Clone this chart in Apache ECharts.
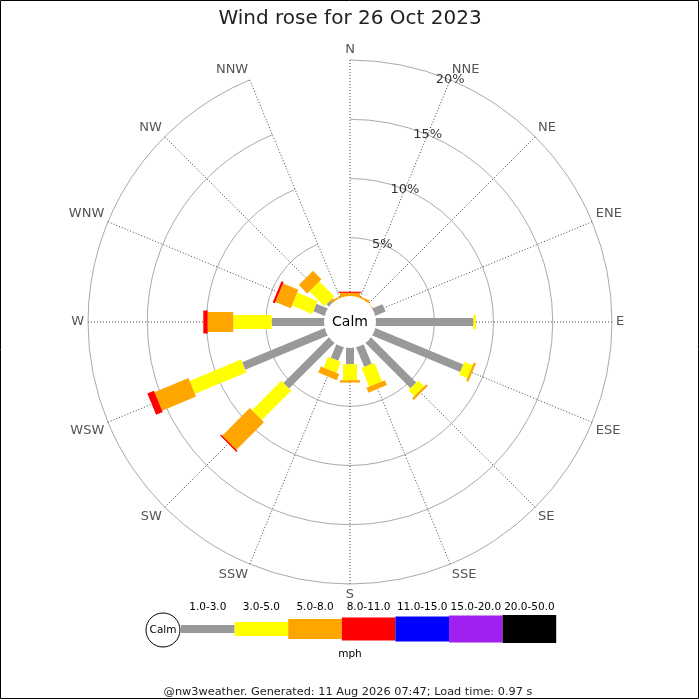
<!DOCTYPE html>
<html>
<head>
<meta charset="utf-8">
<script src="https://cdn.jsdelivr.net/npm/echarts@6/dist/echarts.min.js"></script>
<style>
  html, body { margin: 0; padding: 0; background: #fff; }
  #main { width: 700px; height: 700px; }
</style>
</head>
<body>
<div id="main"></div>
<script>
var dirs = ['N', 'NNE', 'NE', 'ENE', 'E', 'ESE', 'SE', 'SSE', 'S', 'SSW', 'SW', 'WSW', 'W', 'WNW', 'NW', 'NNW'];
var speedClasses = ['1.0-3.0', '3.0-5.0', '5.0-8.0', '8.0-11.0', '11.0-15.0', '15.0-20.0', '20.0-50.0'];
// % of the day per direction, one array per speed class (mph)
var spd1to3   = [0, 0, 0, 1.0, 8.3, 8.1, 5.45, 1.85, 1.45, 1.3, 5.5, 7.6, 4.5, 1.1, 0.35, 0];
var spd3to5   = [0, 0, 0, 0, 0.22, 0.75, 0.7, 1.7, 1.35, 1.0, 3.5, 4.7, 3.24, 1.85, 1.8, 0];
var spd5to8   = [0.35, 0.2, 0.1, 0, 0, 0.2, 0.2, 0.45, 0.2, 0.55, 3.3, 3.1, 2.16, 1.4, 1.0, 0.2];
var spd8to11  = [0.1, 0, 0, 0, 0, 0, 0, 0, 0, 0, 0.12, 0.6, 0.37, 0.2, 0, 0];
var spd11to15 = [0, 0, 0, 0, 0, 0, 0, 0, 0, 0, 0, 0, 0, 0, 0, 0];
var spd15to20 = [0, 0, 0, 0, 0, 0, 0, 0, 0, 0, 0, 0, 0, 0, 0, 0];
var spd20to50 = [0, 0, 0, 0, 0, 0, 0, 0, 0, 0, 0, 0, 0, 0, 0, 0];
var ringTicks = [5, 10, 15, 20];

var classColors = ['#999999', '#ffff00', '#ffa500', '#ff0000', '#0000ff', '#a020f0', '#000000'];
var classWidths = [8, 14, 20, 23, 25, 27, 28];
var FONT = 'DejaVu Sans';

var allClasses = [spd1to3, spd3to5, spd5to8, spd8to11, spd11to15, spd15to20, spd20to50];

// stack the classes outward along each spoke: [start, dir, end, class]
var segs = [];
for (var d = 0; d < dirs.length; d++) {
  var acc = 0;
  for (var k = 0; k < allClasses.length; k++) {
    var v = allClasses[k][d];
    if (v > 0) {
      segs.push([acc, dirs[d], acc + v, k]);
      acc += v;
    }
  }
}

function renderSeg(params, api) {
  var cs = params.coordSys;
  var a = api.coord([api.value(0), api.value(1)]);
  var b = api.coord([api.value(2), api.value(1)]);
  var dx = b[0] - cs.cx, dy = b[1] - cs.cy;
  var len = Math.sqrt(dx * dx + dy * dy) || 1;
  var k = api.value(3);
  var h = classWidths[k] / 2;
  var nx = -dy / len * h, ny = dx / len * h;
  return {
    type: 'polygon',
    shape: { points: [[a[0] + nx, a[1] + ny], [b[0] + nx, b[1] + ny], [b[0] - nx, b[1] - ny], [a[0] - nx, a[1] - ny]] },
    style: { fill: classColors[k] }
  };
}

var cx = 350, cy = 322;

// legend under the rose
var legendEls = [];
var lx = 181, lw = 53.6, ly = 629;
legendEls.push({ type: 'circle', shape: { cx: 163, cy: ly + 1, r: 17 }, style: { fill: '#fff', stroke: '#000', lineWidth: 1 }, z: 60 });
legendEls.push({ type: 'text', x: 163, y: ly + 1, style: { text: 'Calm', font: '10.5px ' + FONT, fill: '#000', align: 'center', verticalAlign: 'middle' }, z: 61 });
for (var i = 0; i < speedClasses.length; i++) {
  var h = classWidths[i];
  legendEls.push({ type: 'rect', shape: { x: lx + i * lw, y: ly - h / 2, width: lw, height: h }, style: { fill: classColors[i] }, z: 60 });
  legendEls.push({ type: 'text', x: lx + i * lw + lw / 2, y: 607, style: { text: speedClasses[i], font: '10.5px ' + FONT, fill: '#000', align: 'center', verticalAlign: 'middle' }, z: 61 });
}
legendEls.push({ type: 'text', x: 350, y: 654, style: { text: 'mph', font: '10.5px ' + FONT, fill: '#000', align: 'center', verticalAlign: 'middle' }, z: 61 });

var chart = echarts.init(document.getElementById('main'), null, { renderer: 'canvas' });
var option = {
  animation: false,
  backgroundColor: '#fff',
  textStyle: { fontFamily: FONT },
  title: {
    text: 'Wind rose for 26 Oct 2023',
    left: 'center',
    top: 4,
    textStyle: { fontFamily: FONT, fontSize: 20, fontWeight: 'normal', color: '#222' }
  },
  polar: { center: [cx, cy], radius: [25, 262] },
  angleAxis: {
    type: 'category',
    data: dirs,
    boundaryGap: false,
    startAngle: 90,
    clockwise: true,
    axisLine: { show: false },
    axisTick: { show: false },
    axisLabel: { color: '#555', fontSize: 13, margin: 4, fontFamily: FONT },
    splitLine: { show: true, lineStyle: { color: '#444', type: [1, 2], width: 1 } }
  },
  radiusAxis: {
    type: 'value',
    min: 0,
    max: 20,
    interval: 5,
    axisLine: { show: false },
    axisTick: { show: false },
    axisLabel: { show: false },
    splitLine: { show: true, lineStyle: { color: '#aaa', width: 1 } }
  },
  series: [
    {
      type: 'custom',
      coordinateSystem: 'polar',
      renderItem: renderSeg,
      data: segs,
      encode: { radius: 2, angle: 1 },
      z: 3
    },
    {
      type: 'scatter',
      coordinateSystem: 'polar',
      symbolSize: 0,
      data: ringTicks.map(function (t) { return [t, 'NNE']; }),
      label: {
        show: true,
        position: 'inside',
        color: '#000',
        fontSize: 13,
        fontFamily: FONT,
        formatter: function (p) { return p.value[0] + '%'; }
      },
      z: 10
    }
  ],
  graphic: [
    { type: 'circle', shape: { cx: cx, cy: cy, r: 26 }, style: { fill: '#fff' }, z: 50 },
    { type: 'text', x: cx, y: cy, style: { text: 'Calm', font: '14px ' + FONT, fill: '#000', align: 'center', verticalAlign: 'middle' }, z: 51 },
    { type: 'group', children: legendEls },
    { type: 'text', x: 348, y: 692, style: { text: '@nw3weather. Generated: 11 Aug 2026 07:47; Load time: 0.97 s', font: '11.3px ' + FONT, fill: '#222', align: 'center', verticalAlign: 'middle' }, z: 51 },
    { type: 'rect', shape: { x: 0.5, y: 0.5, width: 698, height: 698 }, style: { fill: null, stroke: '#000', lineWidth: 1 }, z: 60 }
  ]
};
chart.setOption(option);
</script>
</body>
</html>
